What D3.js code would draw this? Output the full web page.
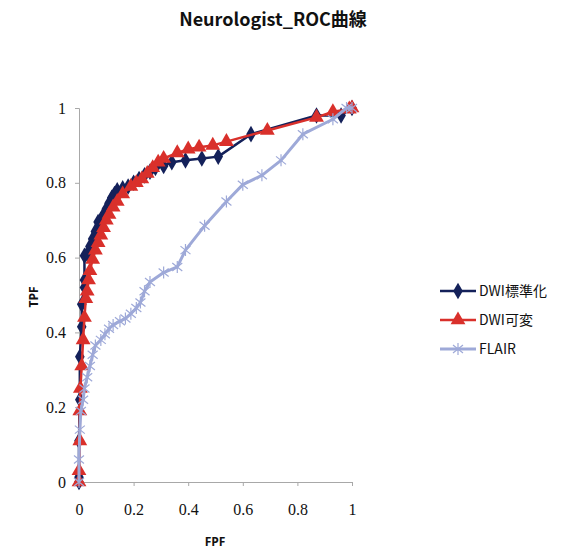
<!DOCTYPE html>
<html>
<head>
<meta charset="utf-8">
<script src="https://cdn.jsdelivr.net/npm/d3@7"></script>
<style>
  body { margin: 0; background: #fff; }
  svg { display: block; }
</style>
</head>
<body>
<svg width="567" height="550"></svg>
<script>
// series names and colours
var seriesNames = ["DWI標準化", "DWI可変", "FLAIR"];
var seriesColors = ["#14215a", "#d9302b", "#9ea9d8"];

// DWI標準化
var dwiStdFpf = [0, 0, 0, 0.003, 0.003, 0.01, 0.01, 0.02, 0.02, 0.02, 0.03, 0.04, 0.05, 0.06, 0.07, 0.08, 0.09, 0.10, 0.11, 0.12, 0.13, 0.14, 0.16, 0.18, 0.20, 0.22, 0.24, 0.26, 0.28, 0.31, 0.34, 0.39, 0.45, 0.51, 0.63, 0.87, 0.96, 1];
var dwiStdTpf = [0, 0.013, 0.11, 0.22, 0.335, 0.415, 0.475, 0.52, 0.54, 0.605, 0.61, 0.63, 0.65, 0.67, 0.695, 0.70, 0.715, 0.73, 0.745, 0.76, 0.77, 0.78, 0.785, 0.79, 0.80, 0.81, 0.82, 0.83, 0.84, 0.845, 0.855, 0.86, 0.865, 0.87, 0.93, 0.98, 0.98, 1];

// DWI可変
var dwiVarFpf = [0, 0, 0.003, 0.003, 0.005, 0.01, 0.015, 0.02, 0.025, 0.03, 0.035, 0.04, 0.05, 0.06, 0.07, 0.08, 0.09, 0.10, 0.11, 0.125, 0.14, 0.16, 0.19, 0.21, 0.23, 0.25, 0.27, 0.29, 0.31, 0.36, 0.40, 0.44, 0.49, 0.54, 0.69, 0.87, 0.93, 0.99, 1];
var dwiVarTpf = [0, 0.03, 0.11, 0.19, 0.25, 0.31, 0.38, 0.44, 0.49, 0.51, 0.54, 0.565, 0.595, 0.62, 0.64, 0.66, 0.68, 0.70, 0.715, 0.735, 0.75, 0.77, 0.79, 0.80, 0.81, 0.825, 0.84, 0.855, 0.865, 0.88, 0.89, 0.895, 0.90, 0.91, 0.94, 0.975, 0.99, 0.997, 1];

// FLAIR
var flairFpf = [0, 0, 0.003, 0.007, 0.015, 0.02, 0.03, 0.04, 0.05, 0.06, 0.08, 0.095, 0.11, 0.125, 0.15, 0.17, 0.19, 0.21, 0.225, 0.24, 0.26, 0.31, 0.36, 0.39, 0.46, 0.54, 0.60, 0.67, 0.74, 0.82, 0.93, 0.98, 1];
var flairTpf = [0, 0.06, 0.14, 0.19, 0.22, 0.25, 0.28, 0.31, 0.34, 0.365, 0.38, 0.395, 0.41, 0.42, 0.43, 0.437, 0.45, 0.465, 0.48, 0.51, 0.535, 0.56, 0.575, 0.62, 0.685, 0.75, 0.795, 0.82, 0.86, 0.93, 0.97, 1.0, 1];

var tickValues = [0, 0.2, 0.4, 0.6, 0.8, 1];

var svg = d3.select("svg"),
    margin = {top: 108, left: 79},
    width = 273,
    height = 374;

var x = d3.scaleLinear().domain([0, 1]).range([0, width]);
var y = d3.scaleLinear().domain([0, 1]).range([height, 0]);

var g = svg.append("g")
    .attr("transform", "translate(" + margin.left + "," + margin.top + ")");

// axes
var xAxis = g.append("g")
    .attr("transform", "translate(0," + height + ")")
    .call(d3.axisBottom(x).tickValues(tickValues).tickFormat(d3.format("")).tickSize(4).tickPadding(18));
var yAxis = g.append("g")
    .call(d3.axisLeft(y).tickValues(tickValues).tickFormat(d3.format("")).tickSize(4).tickPadding(9));

[xAxis, yAxis].forEach(function(a) {
  a.select(".domain").attr("stroke", "#a8a8a8");
  a.selectAll(".tick line").attr("stroke", "#a8a8a8");
  a.selectAll("text")
    .attr("fill", "#111")
    .style("font-family", "'Liberation Serif', 'DejaVu Serif', serif")
    .style("font-size", "16px");
});

var series = [
  {fpf: dwiStdFpf, tpf: dwiStdTpf, marker: "diamond"},
  {fpf: dwiVarFpf, tpf: dwiVarTpf, marker: "triangle"},
  {fpf: flairFpf, tpf: flairTpf, marker: "star"}
];

var line = d3.line()
    .x(function(d) { return x(d[0]); })
    .y(function(d) { return y(d[1]); });

function drawMarker(sel, type, color) {
  if (type === "diamond") {
    sel.append("path")
      .attr("d", d3.symbol().type(d3.symbolDiamond).size(80))
      .attr("fill", color);
  } else if (type === "triangle") {
    sel.append("path")
      .attr("d", d3.symbol().type(d3.symbolTriangle).size(95))
      .attr("fill", color);
  } else {
    sel.append("path")
      .attr("d", "M-5,-4L5,4M-5,4L5,-4M0,-6L0,6")
      .attr("stroke", color)
      .attr("stroke-width", 1.2)
      .attr("fill", "none");
  }
}

series.forEach(function(s, i) {
  var pts = s.fpf.map(function(f, j) { return [f, s.tpf[j]]; });
  var sg = g.append("g");
  sg.append("path")
    .datum(pts)
    .attr("d", line)
    .attr("fill", "none")
    .attr("stroke", seriesColors[i])
    .attr("stroke-width", i === 2 ? 3 : 2.5)
    .attr("stroke-linejoin", "round");
  sg.selectAll(".m")
    .data(pts)
    .enter().append("g")
      .attr("transform", function(d) { return "translate(" + x(d[0]) + "," + y(d[1]) + ")"; })
      .each(function() { drawMarker(d3.select(this), s.marker, seriesColors[i]); });
});

// title
svg.append("text")
    .text("Neurologist_ROC曲線")
    .attr("x", 273)
    .attr("y", 26)
    .style("text-anchor", "middle")
    .style("font-family", "'Noto Sans CJK JP', 'Open Sans', sans-serif")
    .style("font-size", "18px")
    .style("font-weight", "bold")
    .attr("fill", "#111");

// axis titles
svg.append("text")
    .text("FPF")
    .attr("x", 215)
    .attr("y", 546)
    .style("text-anchor", "middle")
    .style("font-family", "'Open Sans', sans-serif")
    .style("font-size", "12px")
    .style("font-weight", "bold")
    .attr("fill", "#111");

svg.append("text")
    .text("TPF")
    .attr("transform", "translate(38,297) rotate(-90)")
    .style("text-anchor", "middle")
    .style("font-family", "'Open Sans', sans-serif")
    .style("font-size", "12px")
    .style("font-weight", "bold")
    .attr("fill", "#111");

// legend
var legend = svg.append("g").attr("transform", "translate(440,291)");
seriesNames.forEach(function(name, i) {
  var row = legend.append("g").attr("transform", "translate(0," + (i * 29) + ")");
  row.append("line")
    .attr("x1", 0).attr("x2", 36)
    .attr("stroke", seriesColors[i])
    .attr("stroke-width", i === 2 ? 3 : 2.5);
  var mk = row.append("g").attr("transform", "translate(18,0)");
  drawMarker(mk, series[i].marker, seriesColors[i]);
  row.append("text")
    .text(name)
    .attr("x", 39)
    .attr("y", 5)
    .style("font-family", "'Noto Sans CJK JP', 'Open Sans', sans-serif")
    .style("font-size", "14px")
    .attr("fill", "#111");
});
</script>
</body>
</html>
